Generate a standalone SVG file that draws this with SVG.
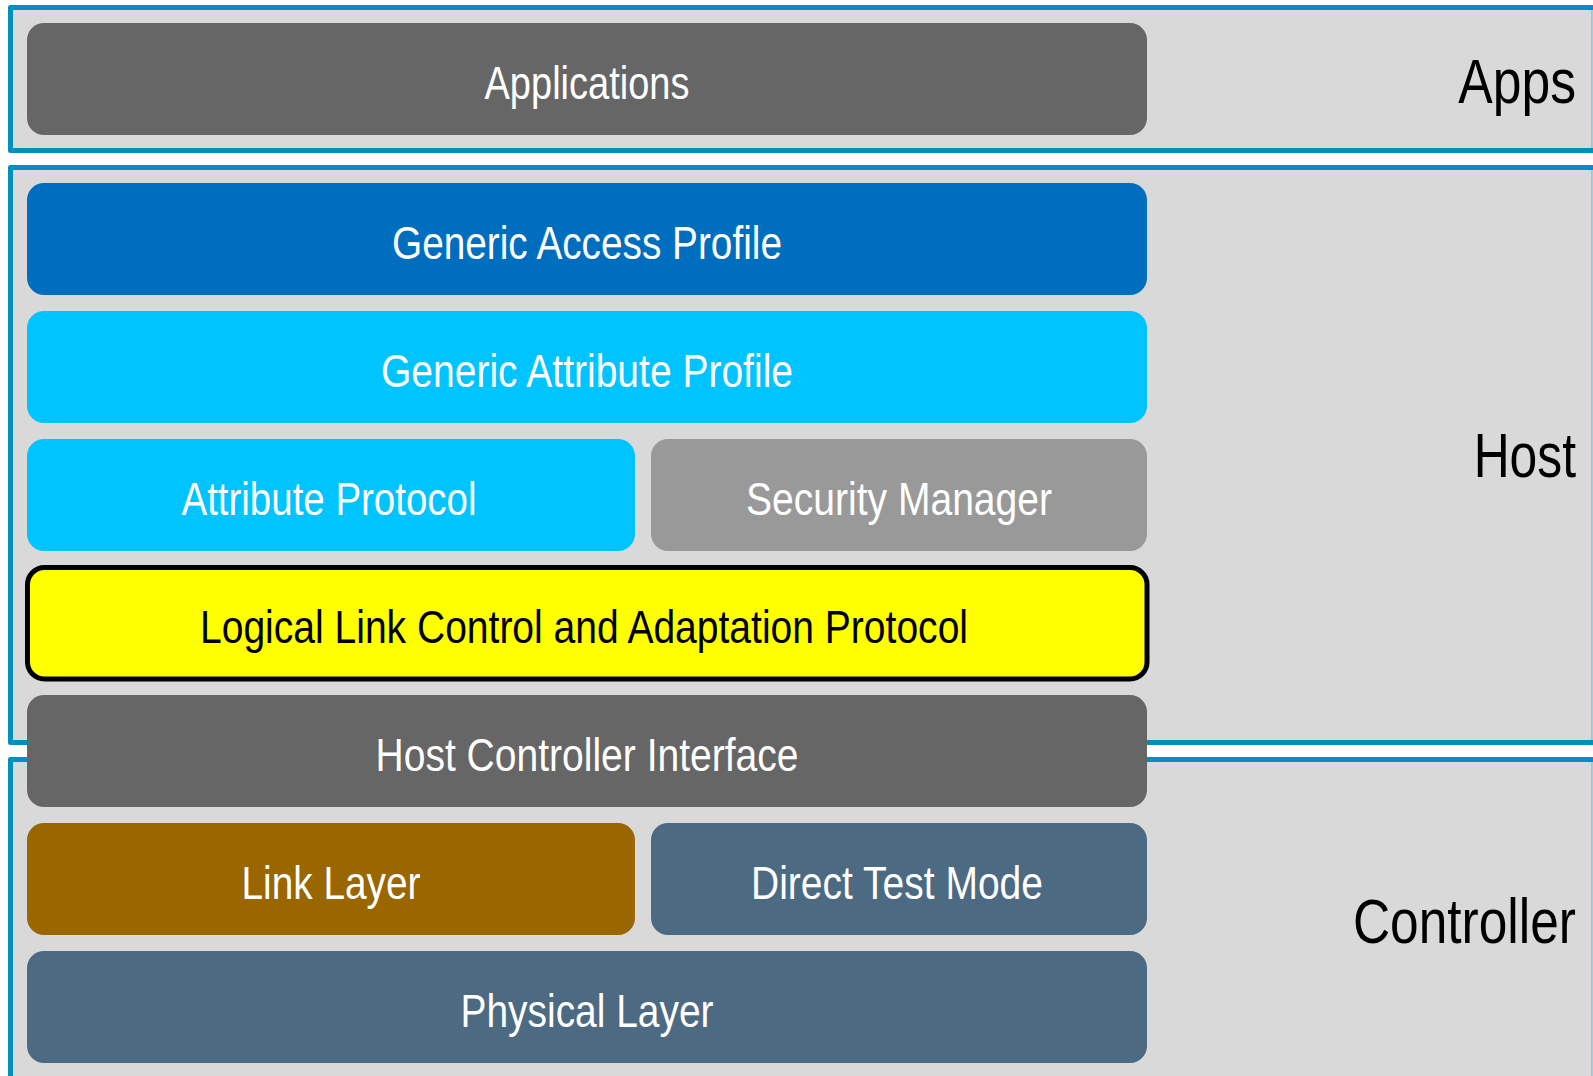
<svg xmlns="http://www.w3.org/2000/svg" width="1593" height="1076" viewBox="0 0 1593 1076">
  <style>
    .zone-fill { fill: #D9D9D9; }
    .zone-edge { fill: none; stroke: #0090BF; stroke-width: 5; stroke-linejoin: round; }
    .zone-side { fill: none; stroke: #5AB4D6; stroke-width: 1; }
    .lbl { font-family: "Liberation Sans", Arial, sans-serif; font-size: 46px; fill: #FFFFFF; text-anchor: middle; }
    .dark { fill: #000000; }
    .zlbl { font-family: "Liberation Sans", Arial, sans-serif; font-size: 63px; fill: #000000; text-anchor: end; }
  </style>
  <rect width="1593" height="1076" fill="#FFFFFF"/>

  <!-- layer bands: open on the right, where they run to the page edge -->
  <g id="band-apps">
    <rect class="zone-fill" x="10.5" y="7.5" width="1582" height="143"/>
    <path class="zone-edge" d="M1593,7.5 H10.5 V150.5 H1593"/>
    <path class="zone-side" d="M1592,10 V148"/>
    <text class="zlbl" transform="translate(1576,103) scale(0.82,1)">Apps</text>
  </g>
  <g id="band-host">
    <rect class="zone-fill" x="10.5" y="167.5" width="1582" height="575"/>
    <path class="zone-edge" d="M1593,167.5 H10.5 V742.5 H1593"/>
    <path class="zone-side" d="M1592,170 V740"/>
    <text class="zlbl" transform="translate(1576,477) scale(0.79,1)">Host</text>
  </g>
  <g id="band-controller">
    <rect class="zone-fill" x="10.5" y="759.5" width="1582" height="316.5"/>
    <path class="zone-edge" d="M1593,759.5 H10.5 V1076"/>
    <path class="zone-side" d="M1592,762 V1076"/>
    <text class="zlbl" transform="translate(1576,943) scale(0.817,1)">Controller</text>
  </g>

  <!-- protocol stack blocks -->
  <g id="applications">
    <rect x="27" y="23" width="1120" height="112" rx="17" fill="#666666"/>
    <text class="lbl" x="587" y="99" textLength="205" lengthAdjust="spacingAndGlyphs">Applications</text>
  </g>
  <g id="gap">
    <rect x="27" y="183" width="1120" height="112" rx="17" fill="#006EBF"/>
    <text class="lbl" x="587" y="259" textLength="390" lengthAdjust="spacingAndGlyphs">Generic Access Profile</text>
  </g>
  <g id="gatt">
    <rect x="27" y="311" width="1120" height="112" rx="17" fill="#00C4FF"/>
    <text class="lbl" x="587" y="387" textLength="412" lengthAdjust="spacingAndGlyphs">Generic Attribute Profile</text>
  </g>
  <g id="att">
    <rect x="27" y="439" width="608" height="112" rx="17" fill="#00C4FF"/>
    <text class="lbl" x="329" y="515" textLength="295" lengthAdjust="spacingAndGlyphs">Attribute Protocol</text>
  </g>
  <g id="sm">
    <rect x="651" y="439" width="496" height="112" rx="17" fill="#999999"/>
    <text class="lbl" x="899" y="515" textLength="306" lengthAdjust="spacingAndGlyphs">Security Manager</text>
  </g>
  <g id="l2cap">
    <rect x="27.5" y="567.5" width="1119.5" height="111.5" rx="17" fill="#FFFF00" stroke="#000000" stroke-width="5"/>
    <text class="lbl dark" x="584" y="643" textLength="768" lengthAdjust="spacingAndGlyphs">Logical Link Control and Adaptation Protocol</text>
  </g>
  <g id="hci">
    <rect x="27" y="695" width="1120" height="112" rx="17" fill="#666666"/>
    <text class="lbl" x="587" y="771" textLength="423" lengthAdjust="spacingAndGlyphs">Host Controller Interface</text>
  </g>
  <g id="link-layer">
    <rect x="27" y="823" width="608" height="112" rx="17" fill="#996600"/>
    <text class="lbl" x="331" y="899" textLength="179" lengthAdjust="spacingAndGlyphs">Link Layer</text>
  </g>
  <g id="dtm">
    <rect x="651" y="823" width="496" height="112" rx="17" fill="#4C6A82"/>
    <text class="lbl" x="897" y="899" textLength="292" lengthAdjust="spacingAndGlyphs">Direct Test Mode</text>
  </g>
  <g id="phy">
    <rect x="27" y="951" width="1120" height="112" rx="17" fill="#4C6A82"/>
    <text class="lbl" x="587" y="1027" textLength="253" lengthAdjust="spacingAndGlyphs">Physical Layer</text>
  </g>

  <!-- no connectors: the blocks stack directly on each other -->
  <g id="connectors"/>
</svg>
